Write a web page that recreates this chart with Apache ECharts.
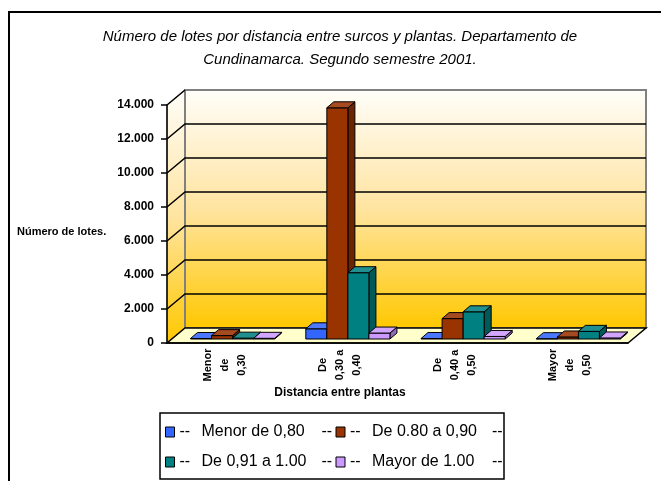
<!DOCTYPE html>
<html>
<head>
<meta charset="utf-8">
<script src="https://cdn.jsdelivr.net/npm/echarts/dist/echarts.min.js"></script>
<style>
  html, body { margin: 0; padding: 0; background: #fff; }
  #main { width: 661px; height: 481px; }
</style>
</head>
<body>
<div id="main"></div>
<script>
var categories = ['Menor\nde\n0,30', 'De\n0,30 a\n0,40', 'De\n0,40 a\n0,50', 'Mayor\nde\n0,50'];
var seriesNames = ['Menor de 0,80', 'De 0.80 a 0,90', 'De 0,91 a 1.00', 'Mayor de 1.00'];
var menor080 = [30, 600, 30, 20];
var de080a090 = [200, 13600, 1200, 120];
var de091a100 = [50, 3900, 1600, 450];
var mayor100 = [40, 350, 150, 60];
var yTicks = [0, 2000, 4000, 6000, 8000, 10000, 12000, 14000];

var seriesValues = [menor080, de080a090, de091a100, mayor100];
var colors = ['#3366FF', '#993300', '#008080', '#CC99FF'];

var chartDom = document.getElementById('main');
var myChart = echarts.init(chartDom);
var option;

// depth of the 3d box, bar offset inside it and bar depth
var dx = 18, dy = 15;
var bdx = 8, bdy = 4;
var ddx = 7, ddy = 6;
var groupRatio = 0.73;

function shade(hex, f) {
    var n = parseInt(hex.slice(1), 16);
    var r = (n >> 16) & 255, g = (n >> 8) & 255, b = n & 255;
    function c(v) {
        v = f > 1 ? v + (255 - v) * (f - 1) : v * f;
        return Math.max(0, Math.min(255, Math.round(v)));
    }
    return 'rgb(' + c(r) + ',' + c(g) + ',' + c(b) + ')';
}

function renderWalls(params, api) {
    var cs = params.coordSys;
    var x0 = cs.x, x1 = cs.x + cs.width, yT = cs.y, yB = cs.y + cs.height;
    var grad = function () {
        return new echarts.graphic.LinearGradient(0, 0, 0, 1, [
            { offset: 0, color: '#FFFEFA' },
            { offset: 0.5, color: '#FFE4A0' },
            { offset: 1, color: '#FFC800' }
        ]);
    };
    var children = [
        {
            type: 'polygon',
            shape: { points: [[x0, yB], [x0 + dx, yB - dy], [x0 + dx, yT - dy], [x0, yT]] },
            style: { fill: grad(), stroke: '#808080', lineWidth: 1 }
        },
        {
            type: 'rect',
            shape: { x: x0 + dx, y: yT - dy, width: x1 - x0, height: yB - yT },
            style: { fill: grad(), stroke: '#808080', lineWidth: 2 }
        },
        {
            type: 'polygon',
            shape: { points: [[x0, yB], [x1, yB], [x1 + dx, yB - dy], [x0 + dx, yB - dy]] },
            style: { fill: '#FFFFCC', stroke: '#000', lineWidth: 1.5 }
        }
    ];
    yTicks.forEach(function (v, i) {
        if (v === 0) return;
        var y = api.coord([0, v])[1];
        var pts = [[x0, y], [x0 + dx, y - dy]];
        if (i < yTicks.length - 1) pts.push([x1 + dx, y - dy]);
        children.push({
            type: 'polyline',
            shape: { points: pts },
            style: { stroke: '#000', lineWidth: 1.5, fill: null }
        });
    });
    return { type: 'group', children: children };
}

function makeBarRender(k) {
    return function (params, api) {
        var cat = api.value(0), val = api.value(1);
        var base = api.coord([cat, 0]);
        var top = api.coord([cat, val]);
        var band = api.size([1, 0])[0];
        var bw = band * groupRatio / 4;
        var x = base[0] - band * groupRatio / 2 + k * bw + bdx;
        var yb = base[1] - bdy, yt = top[1] - bdy;
        var col = colors[k];
        var st = { stroke: '#000', lineWidth: 1, lineJoin: 'round' };
        return {
            type: 'group',
            children: [
                {
                    type: 'polygon',
                    shape: { points: [[x + bw, yt], [x + bw + ddx, yt - ddy], [x + bw + ddx, yb - ddy], [x + bw, yb]] },
                    style: Object.assign({ fill: shade(col, 0.7) }, st)
                },
                {
                    type: 'rect',
                    shape: { x: x, y: yt, width: bw, height: yb - yt },
                    style: Object.assign({ fill: col }, st)
                },
                {
                    type: 'polygon',
                    shape: { points: [[x, yt], [x + bw, yt], [x + bw + ddx, yt - ddy], [x + ddx, yt - ddy]] },
                    style: Object.assign({ fill: shade(col, 1.12) }, st)
                }
            ]
        };
    };
}

var series = [{
    name: 'walls',
    type: 'custom',
    z: 1,
    silent: true,
    renderItem: renderWalls,
    data: [[0, 0]]
}];
seriesNames.forEach(function (name, k) {
    series.push({
        name: name,
        type: 'custom',
        z: 3,
        itemStyle: { color: colors[k] },
        renderItem: makeBarRender(k),
        data: seriesValues[k].map(function (v, i) { return [i, v]; })
    });
});

var legendCommon = {
    orient: 'horizontal',
    left: 165,
    itemWidth: 9,
    itemHeight: 10,
    itemGap: 2,
    padding: 0,
    icon: 'rect',
    itemStyle: { borderColor: '#000', borderWidth: 1 },
    formatter: function (n) { return '{d|--}{n|' + n + '}{e|--}'; },
    textStyle: {
        color: '#000',
        fontFamily: 'Liberation Sans, Arial, sans-serif',
        fontSize: 16,
        rich: {
            d: { width: 22, fontSize: 16, lineHeight: 16 },
            n: { width: 120, fontSize: 16, lineHeight: 16 },
            e: { width: 12, fontSize: 16, lineHeight: 16 }
        }
    }
};

option = {
    animation: false,
    backgroundColor: '#fff',
    title: {
        text: 'Número de lotes por distancia entre surcos y plantas. Departamento de\nCundinamarca. Segundo semestre 2001.',
        left: 340,
        top: 25,
        padding: 0,
        textAlign: 'center',
        textStyle: {
            fontFamily: 'Liberation Sans Narrow, Arial Narrow, sans-serif',
            fontStyle: 'italic',
            fontWeight: 'normal',
            fontSize: 15,
            lineHeight: 23,
            color: '#000'
        }
    },
    legend: [
        Object.assign({ top: 424, data: seriesNames.slice(0, 2) }, legendCommon),
        Object.assign({ top: 454, data: seriesNames.slice(2) }, legendCommon)
    ],
    grid: { left: 167, right: 33, top: 105, bottom: 138 },
    xAxis: {
        type: 'category',
        data: categories,
        z: 5,
        axisLine: { lineStyle: { color: '#000', width: 1.5 } },
        axisTick: { interval: 0, length: 5, lineStyle: { color: '#000', width: 1.5 } },
        axisLabel: {
            interval: 0,
            rotate: 90,
            align: 'center',
            verticalAlign: 'middle',
            margin: 22,
            lineHeight: 17,
            color: '#000',
            fontFamily: 'Liberation Sans, Arial, sans-serif',
            fontWeight: 'bold',
            fontSize: 11
        }
    },
    yAxis: {
        type: 'value',
        min: 0,
        max: 14000,
        interval: 2000,
        z: 5,
        axisLine: { show: true, lineStyle: { color: '#000', width: 1.5 } },
        axisTick: { show: true, length: 6, lineStyle: { color: '#000', width: 1.5 } },
        splitLine: { show: false },
        axisLabel: {
            margin: 13,
            color: '#000',
            fontFamily: 'Liberation Sans, Arial, sans-serif',
            fontWeight: 'bold',
            fontSize: 12,
            formatter: function (v) {
                return String(v).replace(/\B(?=(\d{3})+(?!\d))/g, '.');
            }
        }
    },
    graphic: [
        {
            type: 'rect',
            shape: { x: 9, y: 12, width: 700, height: 520 },
            style: { fill: null, stroke: '#000', lineWidth: 2 },
            z: 10
        },
        {
            type: 'rect',
            shape: { x: 160, y: 413, width: 344, height: 66 },
            style: { fill: null, stroke: '#000', lineWidth: 1.5 },
            z: 10
        },
        {
            type: 'text',
            x: 340,
            y: 393,
            style: {
                text: 'Distancia entre plantas',
                textAlign: 'center',
                textVerticalAlign: 'middle',
                fill: '#000',
                font: 'bold 12px "Liberation Sans", Arial, sans-serif'
            }
        },
        {
            type: 'text',
            x: 17,
            y: 232,
            style: {
                text: 'Número de lotes.',
                textAlign: 'left',
                textVerticalAlign: 'middle',
                fill: '#000',
                font: 'bold 11px "Liberation Sans", Arial, sans-serif'
            }
        }
    ],
    series: series
};

option && myChart.setOption(option);
</script>
</body>
</html>
